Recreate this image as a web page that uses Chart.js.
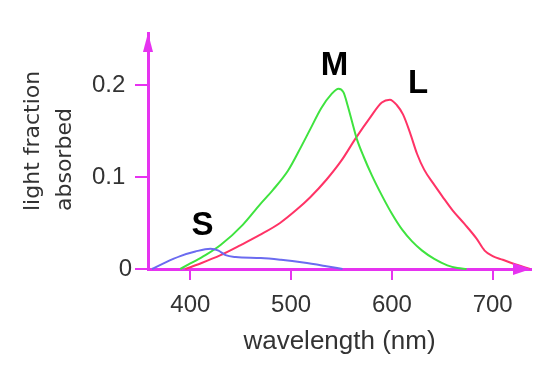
<!DOCTYPE html>
<html>
<head>
<meta charset="utf-8">
<script src="https://cdn.jsdelivr.net/npm/chart.js@4.4.1/dist/chart.umd.min.js"></script>
<style>
  html, body { margin: 0; padding: 0; background: #fff; }
  #wrap { width: 552px; height: 382px; }
</style>
</head>
<body>
<div id="wrap"><canvas id="cones" width="552" height="382"></canvas></div>
<script>
// cone absorption curves
const sWavelengths = [362, 375, 390, 405, 420, 428, 435, 445, 470, 490, 512, 535, 551];
const sValues      = [0, 0.007, 0.014, 0.019, 0.022, 0.02, 0.015, 0.013, 0.012, 0.01, 0.007, 0.003, 0];

const mWavelengths = [390, 400, 415, 430, 452, 469, 482, 497, 510, 519, 530, 540, 547, 552, 556, 560, 565, 572, 580, 590, 600, 610, 620, 630, 642, 655, 665, 674];
const mValues      = [0, 0.006, 0.015, 0.026, 0.048, 0.07, 0.086, 0.107, 0.133, 0.152, 0.175, 0.19, 0.196, 0.192, 0.178, 0.162, 0.142, 0.122, 0.102, 0.08, 0.06, 0.043, 0.03, 0.02, 0.011, 0.004, 0.001, 0];

const lWavelengths = [395, 410, 430, 450, 469, 489, 505, 519, 535, 550, 564, 578, 590, 598, 605, 611, 618, 625, 632, 641, 650, 660, 672, 684, 692, 700, 710, 720, 737];
const lValues      = [0, 0.006, 0.015, 0.026, 0.037, 0.05, 0.064, 0.078, 0.097, 0.118, 0.142, 0.164, 0.181, 0.184, 0.178, 0.168, 0.148, 0.125, 0.108, 0.093, 0.079, 0.064, 0.049, 0.033, 0.02, 0.014, 0.01, 0.006, 0];

const xTicks = [400, 500, 600, 700];
const yTicks = [0, 0.1, 0.2];
const yTickLabels = ['0', '0.1 ', '0.2 '];
const yTitleLines = ['light fraction', 'absorbed'];

// curve names and where they sit (wavelength, value)
const curveNames = ['S', 'M', 'L'];
const nameWavelengths = [412, 543, 626];
const nameValues = [0.0495, 0.2228, 0.2032];

const AXIS = '#e633f0';
const FONT = '"Liberation Sans", Arial, sans-serif';

function toPoints(xs, ys) {
    return xs.map((x, i) => ({ x: x, y: ys[i] }));
}

// arrow heads on the axes
const arrowPlugin = {
    id: 'arrows',
    afterDraw(chart) {
        const { ctx, chartArea } = chart;
        ctx.save();
        ctx.fillStyle = AXIS;
        ctx.beginPath();
        ctx.moveTo(chartArea.left, chartArea.top);
        ctx.lineTo(chartArea.left - 5, chartArea.top + 19);
        ctx.lineTo(chartArea.left + 5, chartArea.top + 19);
        ctx.closePath();
        ctx.fill();
        ctx.beginPath();
        ctx.moveTo(chartArea.right, chartArea.bottom);
        ctx.lineTo(chartArea.right - 18, chartArea.bottom - 6);
        ctx.lineTo(chartArea.right - 18, chartArea.bottom + 6);
        ctx.closePath();
        ctx.fill();
        ctx.restore();
    }
};

// S, M, L names next to the curves, and the rotated y title (both lines start at the same height)
const textPlugin = {
    id: 'texts',
    afterDraw(chart) {
        const { ctx, scales } = chart;
        ctx.save();
        ctx.fillStyle = '#000';
        ctx.font = 'bold 33px ' + FONT;
        ctx.textAlign = 'center';
        ctx.textBaseline = 'middle';
        curveNames.forEach((name, i) => {
            const px = scales.x.getPixelForValue(nameWavelengths[i]);
            const py = scales.y.getPixelForValue(nameValues[i]);
            ctx.fillText(name, px, py + 2);
        });

        ctx.fillStyle = '#333';
        ctx.font = '22px "DejaVu Sans", Verdana, sans-serif';
        ctx.textAlign = 'left';
        ctx.textBaseline = 'alphabetic';
        yTitleLines.forEach((line, i) => {
            ctx.save();
            ctx.translate(38.5 + i * 32.5, 211);
            ctx.rotate(-Math.PI / 2);
            ctx.fillText(line, 0, 0);
            ctx.restore();
        });
        ctx.restore();
    }
};

const ctx = document.getElementById('cones').getContext('2d');

new Chart(ctx, {
    type: 'line',
    data: {
        datasets: [
            { label: 'S', data: toPoints(sWavelengths, sValues), borderColor: '#6b6bf0' },
            { label: 'M', data: toPoints(mWavelengths, mValues), borderColor: '#3fe33f' },
            { label: 'L', data: toPoints(lWavelengths, lValues), borderColor: '#ff3366' }
        ]
    },
    options: {
        responsive: false,
        animation: false,
        devicePixelRatio: 1,
        layout: { padding: { left: 0, top: 33, right: 21, bottom: 0 } },
        elements: {
            point: { radius: 0 },
            line: { borderWidth: 2, cubicInterpolationMode: 'monotone', fill: false }
        },
        clip: false,
        plugins: {
            legend: { display: false },
            tooltip: { enabled: false }
        },
        scales: {
            x: {
                type: 'linear',
                min: 358,
                max: 738,
                afterBuildTicks: scale => { scale.ticks = xTicks.map(v => ({ value: v })); },
                afterFit: scale => { scale.height = 113; },
                grid: { drawOnChartArea: false, drawTicks: true, tickLength: 11, color: AXIS, lineWidth: 2 },
                border: { color: AXIS, width: 3 },
                ticks: {
                    autoSkip: false, maxRotation: 0, padding: 11,
                    color: '#333', font: { family: FONT, size: 24 }
                },
                title: {
                    display: true, text: 'wavelength (nm)', color: '#333',
                    font: { family: FONT, size: 26 }, padding: { top: 0, bottom: 25 }
                }
            },
            y: {
                min: 0,
                max: 0.2565,
                afterBuildTicks: scale => { scale.ticks = yTicks.map(v => ({ value: v })); },
                afterFit: scale => { scale.width = 148; },
                grid: { drawOnChartArea: false, drawTicks: true, tickLength: 13, color: AXIS, lineWidth: 2 },
                border: { color: AXIS, width: 3 },
                ticks: {
                    padding: 3, color: '#333', font: { family: FONT, size: 24 },
                    callback: (value, index) => yTickLabels[index]
                },
                title: { display: false }
            }
        }
    },
    plugins: [arrowPlugin, textPlugin]
});
</script>
</body>
</html>
